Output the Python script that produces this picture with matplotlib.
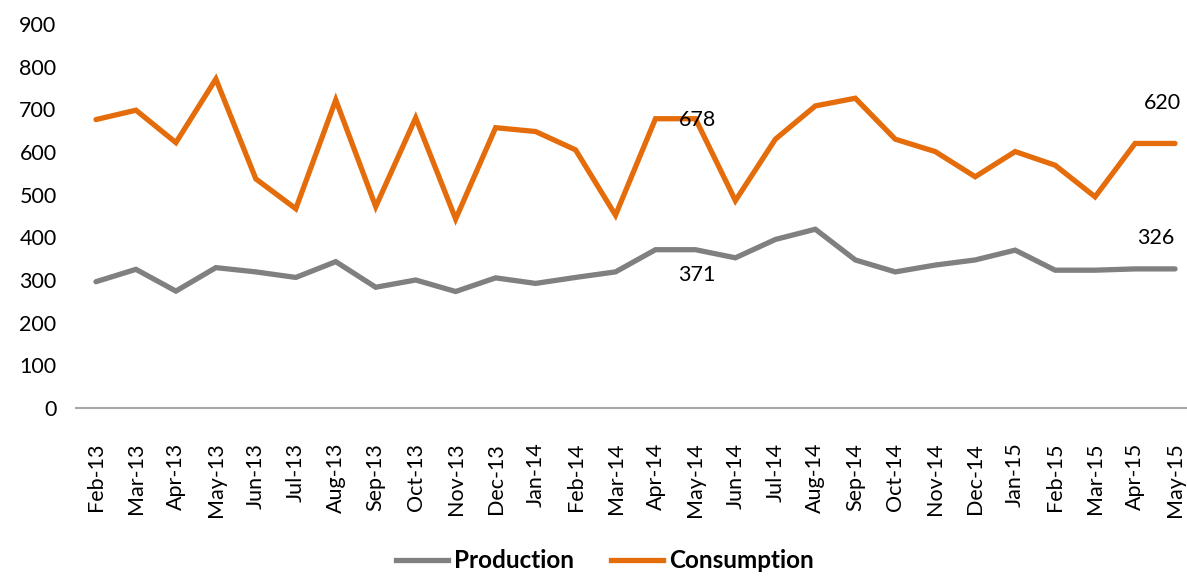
import matplotlib
matplotlib.use("Agg")
import matplotlib.pyplot as plt
from matplotlib.lines import Line2D

months = ["Feb-13", "Mar-13", "Apr-13", "May-13", "Jun-13", "Jul-13", "Aug-13",
          "Sep-13", "Oct-13", "Nov-13", "Dec-13", "Jan-14", "Feb-14", "Mar-14",
          "Apr-14", "May-14", "Jun-14", "Jul-14", "Aug-14", "Sep-14", "Oct-14",
          "Nov-14", "Dec-14", "Jan-15", "Feb-15", "Mar-15", "Apr-15", "May-15"]

production = [296, 325, 274, 329, 319, 306, 343, 283, 300, 273, 305, 292, 306, 319,
              371, 371, 352, 395, 419, 347, 319, 335, 347, 370, 323, 323, 326, 326]

consumption = [676, 698, 622, 771, 537, 467, 722, 472, 680, 443, 657, 648, 605, 452,
               678, 678, 486, 630, 708, 726, 630, 601, 542, 601, 569, 495, 620, 620]

yticks = [0, 100, 200, 300, 400, 500, 600, 700, 800, 900]

plt.rcParams['font.family'] = ['Lato', 'DejaVu Sans']

W, H = 1187, 577
fig = plt.figure(figsize=(W / 100, H / 100), dpi=100)
left, right, top, bottom = 76, 1187, 24, 408
ax = fig.add_axes([left / W, (H - bottom) / H, (right - left) / W, (bottom - top) / H])

gray = "#808080"
orange = "#E46C0A"
x = list(range(len(months)))
ax.plot(x, production, color=gray, lw=3.8, solid_joinstyle="miter", solid_capstyle="round")
ax.plot(x, consumption, color=orange, lw=3.8, solid_joinstyle="miter", solid_capstyle="round")

ax.set_xlim(-0.5, 27.3)
ax.set_ylim(0, 900)
ax.set_yticks(yticks)
ax.set_xticks(x)
ax.set_xticklabels(months, rotation=90, fontsize=15.5, color="black")
ax.tick_params(axis="y", length=0, labelsize=15.5, pad=14, colors="black")
ax.tick_params(axis="x", length=0, pad=25)
for s in ["top", "right", "left"]:
    ax.spines[s].set_visible(False)
ax.spines["bottom"].set_color("#A6A6A6")
ax.spines["bottom"].set_linewidth(1.5)
ax.spines["bottom"].set_clip_on(False)

# data labels
i_may14 = months.index("May-14")
i_may15 = months.index("May-15")
ax.text(i_may14 + 0.04, consumption[i_may14] - 3, str(consumption[i_may14]),
        fontsize=15.5, ha="center", va="center")
ax.text(i_may14 + 0.04, production[i_may14] - 59, str(production[i_may14]),
        fontsize=15.5, ha="center", va="center")
ax.text(i_may15 - 0.32, consumption[i_may15] + 95, str(consumption[i_may15]),
        fontsize=15.5, ha="center", va="center")
ax.text(i_may15 - 0.47, production[i_may15] + 72, str(production[i_may15]),
        fontsize=15.5, ha="center", va="center")

handles = [Line2D([], [], color=gray, lw=3.8), Line2D([], [], color=orange, lw=3.8)]
fig.legend(handles, ["Production", "Consumption"], loc="center",
           bbox_to_anchor=(605 / W, 1 - 561 / H), ncol=2, frameon=False,
           prop={"weight": "bold", "size": 17.5}, handlelength=2.15,
           columnspacing=1.5, handletextpad=0.25, borderpad=0.1)

fig.savefig("out.png", dpi=100)
